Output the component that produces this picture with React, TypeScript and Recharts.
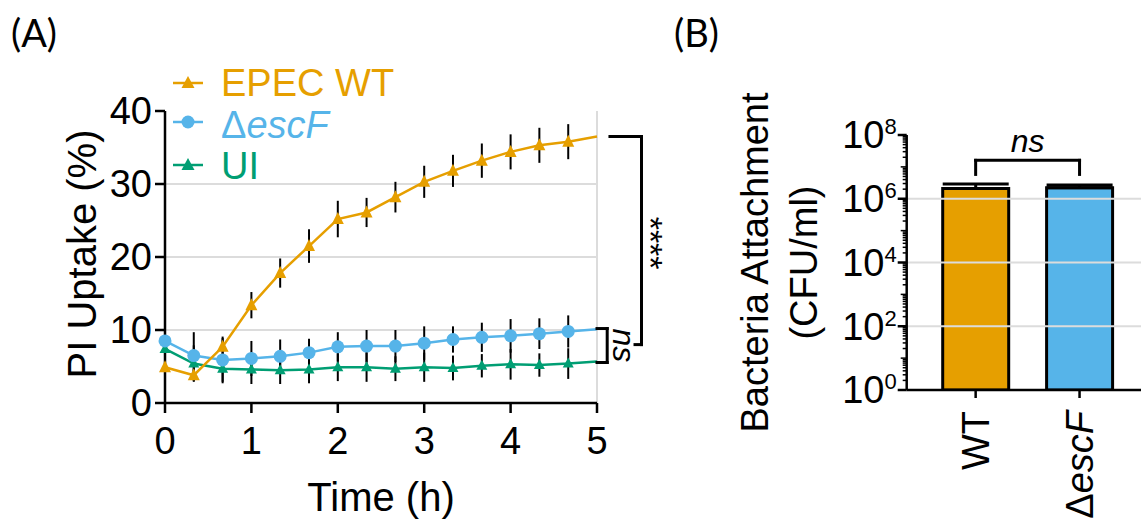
import React from 'react';
import {
  LineChart,
  Line,
  XAxis,
  YAxis,
  ErrorBar,
  ReferenceLine,
  ReferenceDot,
  Legend,
  BarChart,
  Bar,
  Cell,
} from 'recharts';

// (A) PI uptake over time
const hours = [0, 0.333, 0.667, 1, 1.333, 1.667, 2, 2.333, 2.667, 3, 3.333, 3.667, 4, 4.333, 4.667, 5];
const epecWT = [4.9, 3.8, 7.7, 13.4, 17.8, 21.5, 25.2, 26.1, 28.2, 30.3, 31.8, 33.2, 34.4, 35.3, 35.8, 36.5];
const epecWTErr = [0.9, 0.8, 1.4, 1.8, 2.0, 2.3, 2.5, 2.0, 2.1, 2.2, 2.2, 2.35, 2.4, 2.4, 2.4, 0];
const deltaEscF = [8.5, 6.5, 5.9, 6.1, 6.4, 6.9, 7.7, 7.8, 7.8, 8.2, 8.7, 9.0, 9.2, 9.5, 9.8, 10.1];
const deltaEscFErr = [0.8, 3.2, 3.0, 2.4, 2.3, 1.9, 2.0, 2.2, 2.2, 2.3, 1.8, 2.0, 2.3, 2.1, 2.2, 0];
const uninfected = [7.4, 5.4, 4.7, 4.6, 4.5, 4.6, 4.9, 4.9, 4.7, 4.9, 4.8, 5.1, 5.3, 5.2, 5.4, 5.7];
const uninfectedErr = [0.8, 2.5, 2.0, 2.0, 1.9, 1.9, 1.9, 2.0, 1.7, 2.0, 1.7, 1.6, 2.1, 1.6, 2.1, 0];
const timeTicks = [0, 1, 2, 3, 4, 5];
const uptakeTicks = [0, 10, 20, 30, 40];
const uptakeGrid = [10, 20, 30];

// (B) bacteria attachment
const strains = ['WT', 'ΔescF'];
const attachment = [2.1e6, 2.2e6];
const attachmentErr = [0.8e6, 0.5e6];
const decadeExps = [0, 2, 4, 6, 8];
const attachGrid = [1e2, 1e4, 1e6];

const ORANGE = '#E69F00';
const BLUE = '#56B4E9';
const GREEN = '#009E73';
const GRID = '#dcdcdc';
const FONT = '"Liberation Sans", Arial, Helvetica, sans-serif';

const timeData = hours.map((t, i) => ({
  t,
  wt: epecWT[i],
  wtErr: epecWTErr[i],
  escF: deltaEscF[i],
  escFErr: deltaEscFErr[i],
  ui: uninfected[i],
  uiErr: uninfectedErr[i],
}));

const attachData = strains.map((name, i) => ({
  name,
  cfu: attachment[i],
  err: [0, attachmentErr[i]],
}));

const logTicks: number[] = [];
for (let k = 0; k < 8; k++) {
  for (let m = 1; m < 10; m++) logTicks.push(m * 10 ** k);
}
logTicks.push(1e8);

const lastIdx = hours.length - 1;

const triangleDot = (color: string, up: number, down: number, half: number) => (props: any) => {
  const { cx, cy, index } = props;
  if (index === lastIdx || cx == null || cy == null) return <g key={`n-${color}-${index}`} />;
  return (
    <polygon
      key={`t-${color}-${index}`}
      points={`${cx},${cy - up} ${cx - half},${cy + down} ${cx + half},${cy + down}`}
      fill={color}
    />
  );
};

const circleDot = (props: any) => {
  const { cx, cy, index } = props;
  if (index === lastIdx || cx == null || cy == null) return <g key={`nc-${index}`} />;
  return <circle key={`c-${index}`} cx={cx} cy={cy} r={6.5} fill={BLUE} />;
};

const escFText = (
  <>
    <tspan>Δ</tspan>
    <tspan fontStyle="italic">escF</tspan>
  </>
);

function LegendBox() {
  const rows = [
    { color: ORANGE, label: <tspan>EPEC WT</tspan>, my: 23, ty: 36, shape: 'tri' },
    { color: BLUE, label: escFText, my: 62, ty: 78, shape: 'circle' },
    { color: GREEN, label: <tspan>UI</tspan>, my: 105, ty: 119, shape: 'tri' },
  ];
  return (
    <svg width={260} height={130} style={{ overflow: 'visible' }}>
      {rows.map((r, i) => (
        <g key={i}>
          <line x1={8} x2={38} y1={r.my} y2={r.my} stroke={r.color} strokeWidth={2.5} />
          {r.shape === 'circle' ? (
            <circle cx={23} cy={r.my} r={6.5} fill={r.color} />
          ) : (
            <polygon points={`23,${r.my - 7} 16.5,${r.my + 5} 29.5,${r.my + 5}`} fill={r.color} />
          )}
          <text x={56} y={r.ty} fontSize={38} fill={r.color} fontFamily={FONT}>
            {r.label}
          </text>
        </g>
      ))}
    </svg>
  );
}

function LogTick(props: any) {
  const { x, y, payload } = props;
  const exp = Math.log10(payload.value);
  const rounded = Math.round(exp);
  const isDecade = Math.abs(exp - rounded) < 1e-6;
  const labelled = isDecade && decadeExps.includes(rounded);
  const len = labelled ? 9 : isDecade ? 6 : 4;
  return (
    <g>
      <line x1={x - len} x2={x} y1={y} y2={y} stroke="#000" strokeWidth={labelled ? 2.5 : 1.5} />
      {labelled && (
        <text x={x - 10} y={y} dy="0.35em" textAnchor="end" fontSize={38} fill="#000" fontFamily={FONT}>
          10
          <tspan dy={-14} fontSize={22}>
            {rounded}
          </tspan>
        </text>
      )}
    </g>
  );
}

function StrainTick(props: any) {
  const { x, y, payload } = props;
  const v = String(payload.value);
  return (
    <text
      x={x}
      y={y}
      dy="0.35em"
      transform={`rotate(-90, ${x}, ${y})`}
      textAnchor="end"
      fontSize={38}
      fill="#000"
      fontFamily={FONT}
    >
      {v.startsWith('Δ') ? escFText : v}
    </text>
  );
}

const bracket = { stroke: '#000', strokeWidth: 3, strokeLinecap: 'square' as const, ifOverflow: 'visible' as const };

function PanelA() {
  return (
    <LineChart
      width={700}
      height={521}
      data={timeData}
      margin={{ top: 111, right: 103, bottom: 18, left: 65 }}
    >
      {uptakeGrid.map((g) => (
        <ReferenceLine key={g} y={g} stroke={GRID} strokeWidth={2} />
      ))}
      <ReferenceLine x={5} stroke={GRID} strokeWidth={2} />
      <XAxis
        dataKey="t"
        type="number"
        domain={[0, 5]}
        ticks={timeTicks}
        interval={0}
        height={100}
        tickSize={10}
        tickMargin={14}
        axisLine={{ stroke: '#000', strokeWidth: 2.5 }}
        tickLine={{ stroke: '#000', strokeWidth: 2.5 }}
        tick={{ fontSize: 38, fill: '#000', fontFamily: FONT }}
        label={(p: any) => (
          <text
            x={p.viewBox.x + p.viewBox.width / 2}
            y={p.viewBox.y + 108}
            textAnchor="middle"
            fontSize={40}
            fill="#000"
            fontFamily={FONT}
          >
            Time (h)
          </text>
        )}
      />
      <YAxis
        type="number"
        domain={[0, 40]}
        ticks={uptakeTicks}
        interval={0}
        width={100}
        tickSize={10}
        tickMargin={3}
        axisLine={{ stroke: '#000', strokeWidth: 2.5 }}
        tickLine={{ stroke: '#000', strokeWidth: 2.5 }}
        tick={{ fontSize: 38, fill: '#000', fontFamily: FONT }}
        label={(p: any) => {
          const cx = p.viewBox.x + 31;
          const cy = p.viewBox.y + p.viewBox.height / 2 - 3;
          return (
            <text
              x={cx}
              y={cy}
              transform={`rotate(-90, ${cx}, ${cy})`}
              textAnchor="middle"
              fontSize={40}
              fill="#000"
              fontFamily={FONT}
            >
              PI Uptake (%)
            </text>
          );
        }}
      />
      <Line
        dataKey="ui"
        stroke={GREEN}
        strokeWidth={2.5}
        dot={triangleDot(GREEN, 6, 4, 5.5)}
        isAnimationActive={false}
      >
        <ErrorBar dataKey="uiErr" width={0} stroke="#000" strokeWidth={2} />
      </Line>
      <Line dataKey="escF" stroke={BLUE} strokeWidth={2.5} dot={circleDot} isAnimationActive={false}>
        <ErrorBar dataKey="escFErr" width={0} stroke="#000" strokeWidth={2} />
      </Line>
      <Line
        dataKey="wt"
        stroke={ORANGE}
        strokeWidth={2.5}
        dot={triangleDot(ORANGE, 7, 5, 6)}
        isAnimationActive={false}
      >
        <ErrorBar dataKey="wtErr" width={0} stroke="#000" strokeWidth={2} />
      </Line>

      {/* ns bracket */}
      <ReferenceLine segment={[{ x: 5.0, y: 10.2 }, { x: 5.118, y: 10.2 }]} {...bracket} />
      <ReferenceLine segment={[{ x: 5.118, y: 10.2 }, { x: 5.118, y: 5.55 }]} {...bracket} />
      <ReferenceLine segment={[{ x: 5.0, y: 5.55 }, { x: 5.118, y: 5.55 }]} {...bracket} />
      {/* **** bracket */}
      <ReferenceLine segment={[{ x: 5.15, y: 36.5 }, { x: 5.515, y: 36.5 }]} {...bracket} />
      <ReferenceLine segment={[{ x: 5.515, y: 36.5 }, { x: 5.515, y: 8.0 }]} {...bracket} />
      <ReferenceLine segment={[{ x: 5.44, y: 8.0 }, { x: 5.515, y: 8.0 }]} {...bracket} />
      <ReferenceDot
        x={5.72}
        y={21.9}
        r={0}
        ifOverflow="visible"
        shape={(p: any) => (
          <text
            x={p.cx}
            y={p.cy}
            dy="0.58em"
            transform={`rotate(90, ${p.cx}, ${p.cy})`}
            textAnchor="middle"
            fontSize={34}
            fill="#000"
            fontFamily={FONT}
          >
            ****
          </text>
        )}
      />
      <ReferenceDot
        x={5.286}
        y={7.9}
        r={0}
        ifOverflow="visible"
        shape={(p: any) => (
          <text
            x={p.cx}
            y={p.cy}
            dy="0.26em"
            transform={`rotate(90, ${p.cx}, ${p.cy})`}
            textAnchor="middle"
            fontSize={32}
            fontStyle="italic"
            fill="#000"
            fontFamily={FONT}
          >
            ns
          </text>
        )}
      />
      <Legend
        layout="vertical"
        align="center"
        verticalAlign="middle"
        content={() => <LegendBox />}
        wrapperStyle={{ position: 'absolute', left: 165, top: 60, width: 260, height: 130 }}
      />
    </LineChart>
  );
}

function PanelB() {
  return (
    <BarChart
      width={501}
      height={521}
      data={attachData}
      margin={{ top: 135, right: 0, bottom: 0, left: 96.7 }}
    >
      {attachGrid.map((g) => (
        <ReferenceLine key={g} y={g} stroke={GRID} strokeWidth={2} />
      ))}
      <XAxis
        dataKey="name"
        type="category"
        height={131}
        padding={{ left: 17, right: 9.5 }}
        interval={0}
        tickSize={8}
        tickMargin={13}
        axisLine={{ stroke: '#000', strokeWidth: 2.5 }}
        tickLine={{ stroke: '#000', strokeWidth: 2.5 }}
        tick={StrainTick}
      />
      <YAxis
        type="number"
        scale="log"
        domain={[1, 1e8]}
        allowDataOverflow
        ticks={logTicks}
        interval={0}
        width={170}
        tickSize={0}
        tickMargin={0}
        axisLine={{ stroke: '#000', strokeWidth: 2.5 }}
        tickLine={false}
        tick={LogTick}
        label={(p: any) => {
          const cy = p.viewBox.y + p.viewBox.height / 2;
          const x1 = 768 - 640;
          const x2 = 817 - 640;
          return (
            <g fontSize={38} fill="#000" fontFamily={FONT}>
              <text x={x1} y={cy} transform={`rotate(-90, ${x1}, ${cy})`} textAnchor="middle">
                Bacteria Attachment
              </text>
              <text x={x2} y={cy} transform={`rotate(-90, ${x2}, ${cy})`} textAnchor="middle">
                (CFU/ml)
              </text>
            </g>
          );
        }}
      />
      <Bar dataKey="cfu" barSize={66} stroke="#000" strokeWidth={3} isAnimationActive={false}>
        {attachData.map((d, i) => (
          <Cell key={d.name} fill={i === 0 ? ORANGE : BLUE} />
        ))}
        <ErrorBar dataKey="err" width={33} stroke="#000" strokeWidth={3} direction="y" />
      </Bar>
      <ReferenceLine
        segment={[{ x: 'WT', y: 1.6e7 }, { x: 'ΔescF', y: 1.6e7 }]}
        {...bracket}
        label={(p: any) => (
          <text
            x={p.viewBox.x + p.viewBox.width / 2}
            y={p.viewBox.y - 8}
            textAnchor="middle"
            fontSize={32}
            fontStyle="italic"
            fill="#000"
            fontFamily={FONT}
          >
            ns
          </text>
        )}
      />
      <ReferenceLine segment={[{ x: 'WT', y: 1.6e7 }, { x: 'WT', y: 5.8e6 }]} {...bracket} />
      <ReferenceLine segment={[{ x: 'ΔescF', y: 1.6e7 }, { x: 'ΔescF', y: 5.8e6 }]} {...bracket} />
    </BarChart>
  );
}

const panelLabel: React.CSSProperties = {
  position: 'absolute',
  top: 10,
  fontFamily: 'Lato, "Open Sans", sans-serif',
  fontSize: 38,
  lineHeight: '44px',
};

export default function App() {
  return (
    <div
      style={{
        position: 'absolute',
        left: 0,
        top: 0,
        width: 1141,
        height: 521,
        background: '#fff',
        fontFamily: FONT,
        overflow: 'hidden',
      }}
    >
      <div style={{ position: 'absolute', left: 0, top: 0 }}>
        <PanelA />
      </div>
      <div style={{ position: 'absolute', left: 640, top: 0 }}>
        <PanelB />
      </div>
      <div style={{ ...panelLabel, left: 11 }}>(A)</div>
      <div style={{ ...panelLabel, left: 674 }}>(B)</div>
    </div>
  );
}
